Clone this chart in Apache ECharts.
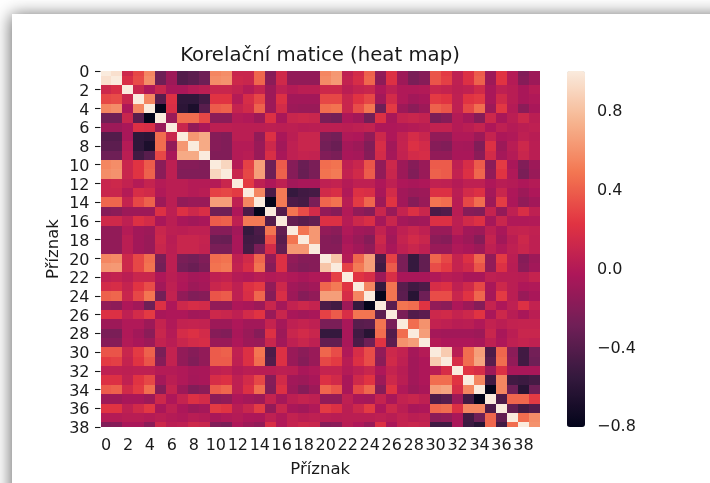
<!DOCTYPE html>
<html><head><meta charset="utf-8">
<style>
html,body{margin:0;padding:0;width:710px;height:483px;overflow:hidden;background:#fff}
#card{position:absolute;left:12px;top:14px;width:760px;height:540px;background:#fff;box-shadow:-1px 1px 16px rgba(0,0,0,.6)}
#main{position:absolute;left:0;top:0;width:710px;height:483px}
</style>
<script src="https://cdn.jsdelivr.net/npm/echarts@6/dist/echarts.min.js"></script>
</head><body><div id="card"></div><div id="main"></div>
<script>
const titleText = 'Korelační matice (heat map)';
const axisName = 'Příznak';
const colorbarTicks = [-0.8,-0.4,0,0.4,0.8];
const colorMin = -0.81, colorMax = 1;
const rocket = ['#03051a','#35193e','#701f57','#ad1759','#e13342','#f37651','#f6b48f','#faebdd'];
const featureLabels = Array.from({length:40},(_,i)=>String(i));

// upper triangle of the correlation matrix: row k holds columns k..39
const r0=[1,.95,.12,.3,.55,-.3,-.1,-.42,-.38,-.3,.55,.58,.1,.1,.42,-.2,.13,-.15,-.15,-.15, .55,.62,.05,.15,.4,-.15,.2,-.1,-.25,-.2,.35,.25,.05,.2,.38,-.1,.22,0,-.22,-.1];
const r1=[1,.18,.32,.58,-.3,-.1,-.42,-.38,-.3,.58,.6,.12,.1,.42,-.18,.13,-.15,-.15,-.15, .57,.63,.07,.17,.42,-.17,.2,-.1,-.25,-.2,.35,.27,.05,.2,.4,-.1,.22,0,-.2,-.1];
const r2=[1,.1,-.03,.1,-.05,-.05,0,.03,.1,.1,.07,0,.08,-.1,.05,0,.03,.03, .12,.12,.03,.08,.1,-.03,.05,-.02,-.02,-.01,.1,.08,.04,.06,.14,-.05,.05,.02,-.05,.01];
const r3=[1,.55,-.4,.2,-.58,-.58,-.5,.22,.22,0,.17,.3,-.1,.2,-.08,-.08,-.08, .3,.3,.1,.22,.3,-.08,.15,-.02,-.08,-.05,.25,.22,.05,.22,.25,-.05,.14,.02,-.05,-.02];
const r4=[1,-.8,.18,-.6,-.68,-.4,.38,.4,.08,.14,.4,-.1,.15,-.1,-.12,-.12, .45,.47,.1,.32,.48,-.3,.25,-.1,-.18,-.1,.4,.35,.05,.3,.45,-.1,.24,0,-.18,-.05];
const r5=[1,-.12,.45,.45,.3,-.18,-.18,0,-.02,-.1,.2,-.05,.1,.12,.1, -.25,-.28,-.03,-.08,-.28,.2,-.05,.08,.1,.07,-.25,-.2,0,-.07,-.2,.12,-.05,.03,.12,.03];
const r6=[1,.1,-.15,-.05,.04,.04,.03,.03,.03,.04,.03,.04,.02,.03, .04,.04,.03,.05,.07,-.03,-.03,-.02,0,.02,.07,.07,0,.03,.08,-.03,.05,0,.03,.05];
const r7=[1,.62,.7,-.2,-.22,.03,.03,-.15,.2,-.05,.03,.1,.1, -.25,-.28,-.02,-.03,-.15,.12,-.03,.07,.16,.1,-.15,-.15,-.02,-.02,-.1,.08,-.04,-.02,.05,.02];
const r8=[1,.7,-.2,-.22,0,0,-.12,.12,-.08,.05,.1,.1, -.28,-.32,-.07,-.1,-.22,.17,-.08,.08,.2,.15,-.2,-.22,-.06,-.07,-.22,.2,-.1,.02,.12,.03];
const r9=[1,-.22,-.22,0,.02,-.12,.18,-.05,.05,.08,.07, -.22,-.25,-.05,-.07,-.2,.15,-.07,.07,.15,.17,-.15,-.15,-.05,-.05,-.18,.15,-.07,0,.1,.03];
const r10=[1,.9,0,.28,.65,-.3,.38,-.2,-.32,-.25, .45,.47,.05,.1,.35,-.15,.12,-.1,-.2,-.12,.38,.38,.05,.17,.38,-.18,.25,-.05,-.22,-.1];
const r11=[1,.1,.3,.65,-.3,.4,-.2,-.33,-.25, .47,.5,.07,.14,.38,-.15,.1,-.1,-.22,-.12,.4,.38,.07,.2,.42,-.15,.22,-.02,-.25,-.12];
const r12=[1,.25,.05,-.03,.05,-.08,-.05,-.05, .05,.07,0,.05,.05,-.03,.05,-.03,-.05,-.03,.06,.05,0,.05,.05,-.03,.02,0,-.03,0];
const r13=[1,.55,-.45,.5,-.55,-.5,-.48, .14,.18,-.02,.2,.18,-.05,.15,-.08,-.12,-.1,.2,.2,.03,.15,.2,-.07,.1,-.03,-.1,-.03];
const r14=[1,-.8,.5,-.45,-.48,-.25, .42,.47,.02,.25,.42,-.1,.22,-.08,-.2,-.12,.48,.45,.02,.3,.45,-.1,.26,-.04,-.15,-.08];
const r15=[1,-.42,.48,.32,.15, -.15,-.2,-.01,-.15,-.2,.1,-.12,.08,.2,.1,-.45,-.42,.02,-.2,-.22,.08,-.14,.05,.18,.05];
const r16=[1,-.35,-.4,-.35, .2,.2,.01,.12,.18,-.07,.1,-.07,-.1,-.08,.2,.2,.04,.14,.2,-.07,.1,-.02,-.02,-.01];
const r17=[1,.48,.62, -.15,-.18,-.02,-.08,-.1,.07,-.05,.05,.1,.05,-.12,-.12,.03,-.08,-.1,.04,-.05,.07,.08,.06];
const r18=[1,.62, -.2,-.22,-.05,-.12,-.2,.12,-.08,.08,.15,.1,-.18,-.2,-.05,-.1,-.2,.08,-.08,.03,.12,.05];
const r19=[1, -.2,-.2,-.02,-.08,-.15,.08,-.05,.05,.1,.05,-.12,-.12,-.02,-.05,-.1,.05,-.02,.05,.1,.05];
const r20=[1,.82,0,.42,.65,-.45,.28,-.25,-.55,-.35,.42,.3,.08,.2,.42,-.15,.25,.03,-.2,-.1];
const r21=[1,.28,.5,.65,-.5,.38,-.25,-.55,-.35,.32,.25,.08,.14,.35,-.15,.2,.02,-.18,-.08];
const r22=[1,.22,.17,-.1,.18,-.05,-.05,-.05,-.02,.02,0,-.05,-.05,.05,.03,.03,.02,.08];
const r23=[1,.55,-.55,.48,-.4,-.5,-.45,.17,.2,.05,.13,.3,-.05,.12,.03,-.03,-.02];
const r24=[1,-.8,.48,-.38,-.62,-.3,.32,.32,.1,.22,.42,-.07,.25,.03,-.12,-.05];
const r25=[1,-.38,.48,.45,.22,-.15,-.18,-.03,-.1,-.2,.08,-.03,.05,.2,.07];
const r26=[1,-.25,-.42,-.38,.12,.14,.08,.12,.22,-.05,.12,.02,-.05,.03];
const r27=[1,.45,.6,.07,.05,.02,.03,-.02,.07,.03,.07,.08,.08];
const r28=[1,.65,-.07,-.08,-.08,-.08,-.1,.1,-.05,.03,.1,.1];
const r29=[1,0,-.03,-.03,-.03,-.05,.05,-.03,.05,.08,.06];
const r30=[1,.85,.02,.45,.65,-.45,.42,-.18,-.5,-.28];
const r31=[1,.17,.45,.68,-.4,.45,-.15,-.5,-.3];
const r32=[1,.22,.17,-.1,.2,-.05,-.05,-.05];
const r33=[1,.55,-.5,.55,-.5,-.52,-.48];
const r34=[1,-.8,.55,-.3,-.62,-.3];
const r35=[1,-.45,.42,.42,.25];
const r36=[1,-.35,-.5,-.42];
const r37=[1,.45,.58];
const r38=[1,.6];
const r39=[1];
const upper=[r0,r1,r2,r3,r4,r5,r6,r7,r8,r9,r10,r11,r12,r13,r14,r15,r16,r17,r18,r19,r20,r21,r22,r23,r24,r25,r26,r27,r28,r29,r30,r31,r32,r33,r34,r35,r36,r37,r38,r39];

const cells=[];
upper.forEach((row,k)=>row.forEach((v,d)=>{
  cells.push([k+d,k,v]);
  if(d>0) cells.push([k,k+d,v]);
}));

const FONT='DejaVu Sans', INK='#1a1a1a';
const chart=echarts.init(document.getElementById('main'),null,{renderer:'canvas'});
chart.setOption({
  backgroundColor:'transparent',
  animation:false,
  title:{text:titleText,left:315,top:41,textAlign:'center',textStyle:{fontFamily:FONT,fontWeight:'normal',fontSize:19.7,color:INK}},
  grid:[
    {left:100.5,top:71,width:439.5,height:356},
    {left:567,top:71,width:18,height:356}
  ],
  xAxis:[
    {gridIndex:0,type:'category',data:featureLabels,
     name:axisName,nameLocation:'middle',nameGap:34,nameTextStyle:{fontFamily:FONT,fontSize:16.5,color:INK},
     axisLine:{show:false},splitLine:{show:false},
     axisTick:{alignWithLabel:true,interval:1,length:5.5,lineStyle:{color:INK,width:1.1}},
     axisLabel:{interval:1,fontFamily:FONT,fontSize:16,color:INK,margin:11}},
    {gridIndex:1,type:'value',min:0,max:1,show:false}
  ],
  yAxis:[
    {gridIndex:0,type:'value',inverse:true,min:0,max:38,interval:2,
     name:axisName,nameLocation:'middle',nameGap:38,nameRotate:90,nameMoveOverlap:false,nameTextStyle:{fontFamily:FONT,fontSize:16.5,color:INK},
     axisLine:{show:false},splitLine:{show:false},
     axisTick:{show:true,length:5.5,lineStyle:{color:INK,width:1.1}},
     axisLabel:{fontFamily:FONT,fontSize:16,color:INK,margin:11,verticalAlign:'top',lineHeight:4}},
    {gridIndex:1,type:'value',position:'right',min:colorMin,max:colorMax,
     axisLine:{show:false},splitLine:{show:false},
     axisTick:{show:true,length:5.5,customValues:colorbarTicks,lineStyle:{color:INK,width:1.1}},
     axisLabel:{fontFamily:FONT,fontSize:16,color:INK,margin:12,verticalAlign:'top',lineHeight:4,customValues:colorbarTicks,
       formatter:v=>(v<0?'\u2212':'')+Math.abs(v).toFixed(1)}}
  ],
  visualMap:{type:'continuous',seriesIndex:0,dimension:2,min:colorMin,max:colorMax,
    left:567,top:71,itemWidth:18,itemHeight:356,calculable:false,text:null,showLabel:false,
    inRange:{color:rocket},padding:0},
  series:[
    {type:'custom',xAxisIndex:0,yAxisIndex:0,encode:{x:0,y:1},data:cells,silent:true,
     renderItem(params,api){
       const c=api.coord([api.value(0),api.value(1)]);
       const w=api.size([1,0])[0], h=api.size([0,1])[1];
       const r=echarts.graphic.clipRectByRect({x:c[0]-w/2,y:c[1]-h/2,width:w,height:h},
         {x:params.coordSys.x,y:params.coordSys.y,width:params.coordSys.width,height:params.coordSys.height});
       if(!r) return null;
       const x0=Math.round(r.x),x1=Math.round(r.x+r.width),y0=Math.round(r.y),y1=Math.round(r.y+r.height);
       return {type:'rect',shape:{x:x0,y:y0,width:x1-x0,height:y1-y0},style:{fill:api.visual('color')}};
     }},
    {type:'custom',xAxisIndex:1,yAxisIndex:1,data:[],renderItem(){return null;}}
  ]
});
</script></body></html>
